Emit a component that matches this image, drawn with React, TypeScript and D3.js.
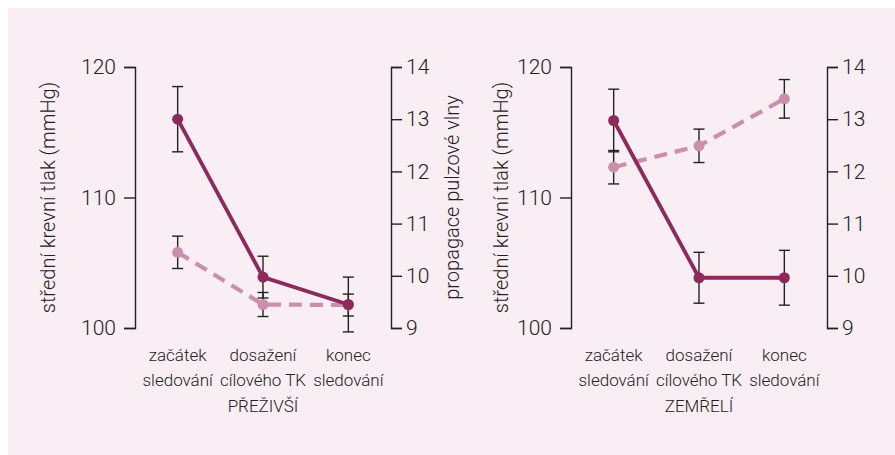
import React, { useEffect, useRef } from 'react';
import * as d3 from 'd3';

const categories = [
  ['začátek', 'sledování'],
  ['dosažení', 'cílového TK'],
  ['konec', 'sledování'],
];
const bpTicks = [100, 110, 120];
const pwvTicks = [9, 10, 11, 12, 13, 14];

// přeživší
const survBP = [116.0, 103.9, 101.8];
const survBPErr = [2.5, 1.6, 2.1];
const survPWV = [10.45, 9.45, 9.44];
const survPWVErr = [0.31, 0.23, 0.21];

// zemřelí
const deadBP = [115.9, 103.85, 103.85];
const deadBPErr = [2.4, 1.95, 2.1];
const deadPWV = [12.08, 12.49, 13.39];
const deadPWVErr = [0.32, 0.32, 0.37];

const W = 895;
const H = 455;
const FONT = 'Roboto, "Liberation Sans", sans-serif';
const SOLID = '#8c2a5c';
const DASHED = '#c98fac';

interface PanelDef {
  title: string;
  bp: number[];
  bpErr: number[];
  pwv: number[];
  pwvErr: number[];
  offsetX: number;
  rightTitle: boolean;
}

const panels: PanelDef[] = [
  { title: 'PŘEŽIVŠÍ', bp: survBP, bpErr: survBPErr, pwv: survPWV, pwvErr: survPWVErr, offsetX: 0, rightTitle: true },
  { title: 'ZEMŘELÍ', bp: deadBP, bpErr: deadBPErr, pwv: deadPWV, pwvErr: deadPWVErr, offsetX: 436, rightTitle: false },
];

export default function App() {
  const svgRef = useRef<SVGSVGElement>(null);

  useEffect(() => {
    if (!svgRef.current) return;
    const svg = d3.select(svgRef.current);
    svg.selectAll('*').remove();

    svg.append('rect')
      .attr('x', 8).attr('y', 8)
      .attr('width', W - 8).attr('height', H - 8)
      .attr('fill', '#f8eef3');

    const top = 67;
    const bottom = 328;
    const yBP = d3.scaleLinear().domain([100, 120]).range([bottom, top]);
    const yPWV = d3.scaleLinear().domain([9, 14]).range([bottom, top]);

    panels.forEach((p) => {
      const left = 135 + p.offsetX;
      const right = 391 + p.offsetX;
      const idx = categories.map((_, i) => String(i));
      const x = d3.scalePoint<string>().domain(idx).range([left, right]).padding(0.5);
      const g = svg.append('g');

      const leftAxis = g.append('g')
        .attr('transform', `translate(${left},0)`)
        .call(d3.axisLeft(yBP).tickValues(bpTicks).tickFormat(d3.format('d')).tickSize(11).tickPadding(8));
      const rightAxis = g.append('g')
        .attr('transform', `translate(${right},0)`)
        .call(d3.axisRight(yPWV).tickValues(pwvTicks).tickFormat(d3.format('d')).tickSize(11).tickPadding(4));

      [leftAxis, rightAxis].forEach((a) => {
        a.selectAll('path, line').attr('stroke', '#222').attr('stroke-width', 1.4);
        a.selectAll('text')
          .attr('fill', '#222')
          .style('font-family', FONT)
          .style('font-weight', 300)
          .style('font-size', '21px');
      });

      // error bars
      const errBar = (vals: number[], errs: number[], y: d3.ScaleLinear<number, number>) => {
        vals.forEach((v, i) => {
          const cx = x(String(i)) as number;
          const y1 = y(v + errs[i]);
          const y2 = y(v - errs[i]);
          g.append('line').attr('x1', cx).attr('x2', cx).attr('y1', y1).attr('y2', y2)
            .attr('stroke', '#222').attr('stroke-width', 1.4);
          [y1, y2].forEach((yy) => {
            g.append('line').attr('x1', cx - 5.5).attr('x2', cx + 5.5).attr('y1', yy).attr('y2', yy)
              .attr('stroke', '#222').attr('stroke-width', 1.4);
          });
        });
      };
      errBar(p.pwv, p.pwvErr, yPWV);
      errBar(p.bp, p.bpErr, yBP);

      const pwvLine = d3.line<number>().x((_, i) => x(String(i)) as number).y((d) => yPWV(d));
      const bpLine = d3.line<number>().x((_, i) => x(String(i)) as number).y((d) => yBP(d));

      g.append('path').datum(p.pwv).attr('d', pwvLine)
        .attr('fill', 'none').attr('stroke', DASHED).attr('stroke-width', 4.2)
        .attr('stroke-dasharray', '13,8');
      g.selectAll(null).data(p.pwv).enter().append('circle')
        .attr('cx', (_, i) => x(String(i)) as number).attr('cy', (d) => yPWV(d))
        .attr('r', 5.5).attr('fill', DASHED);

      g.append('path').datum(p.bp).attr('d', bpLine)
        .attr('fill', 'none').attr('stroke', SOLID).attr('stroke-width', 3.8);
      g.selectAll(null).data(p.bp).enter().append('circle')
        .attr('cx', (_, i) => x(String(i)) as number).attr('cy', (d) => yBP(d))
        .attr('r', 5.5).attr('fill', SOLID);

      // category labels
      categories.forEach((lines, i) => {
        lines.forEach((t, j) => {
          g.append('text')
            .attr('x', x(String(i)) as number).attr('y', 361 + j * 24.7)
            .attr('text-anchor', 'middle')
            .attr('fill', '#222')
            .style('font-family', FONT).style('font-weight', 300).style('font-size', '17px')
            .text(t);
        });
      });
      g.append('text')
        .attr('x', x('1') as number).attr('y', 411.5)
        .attr('text-anchor', 'middle')
        .attr('fill', '#222')
        .style('font-family', FONT).style('font-weight', 300).style('font-size', '17px')
        .text(p.title);

      const mid = (top + bottom) / 2;
      g.append('text')
        .attr('transform', `translate(${48 + p.offsetX - (p.offsetX ? -17 : 0)},${mid}) rotate(-90)`)
        .attr('text-anchor', 'middle')
        .attr('dominant-baseline', 'central')
        .attr('fill', '#222')
        .style('font-family', FONT).style('font-weight', 300).style('font-size', '20px')
        .text('střední krevní tlak (mmHg)');

      if (p.rightTitle) {
        g.append('text')
          .attr('transform', `translate(${452},${mid}) rotate(-90)`)
          .attr('text-anchor', 'middle')
          .attr('dominant-baseline', 'central')
          .attr('fill', '#222')
          .style('font-family', FONT).style('font-weight', 300).style('font-size', '20px')
          .text('propagace pulzové vlny');
      }
    });
  }, []);

  return (
    <svg
      ref={svgRef}
      width={W}
      height={H}
      style={{ position: 'absolute', left: 0, top: 0 }}
    />
  );
}
